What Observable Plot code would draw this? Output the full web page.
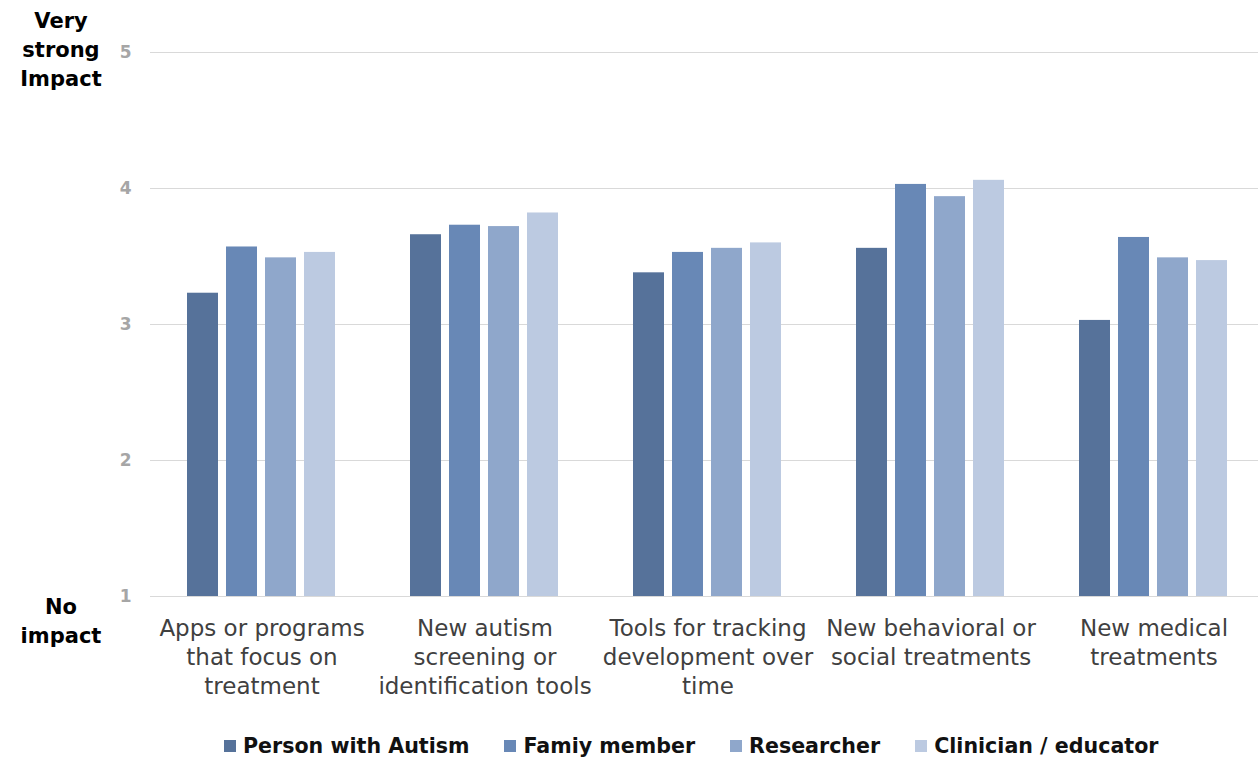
<!DOCTYPE html>
<html>
<head>
<meta charset="utf-8">
<script src="https://cdn.jsdelivr.net/npm/d3@7"></script>
<script src="https://cdn.jsdelivr.net/npm/@observablehq/plot@0.6"></script>
<style>
  html, body { margin: 0; padding: 0; background: #ffffff; overflow: hidden; width: 1258px; height: 759px; }
  #wrap { position: relative; width: 1258px; height: 759px; }
  .ytitle { position: absolute; left: 0; width: 122px; text-align: center; font-family: "DejaVu Sans", sans-serif; font-weight: bold; font-size: 21px; line-height: 29px; color: #000; }
  #legend { position: absolute; left: 224px; top: 733px; display: flex; gap: 35px; font-family: "DejaVu Sans", sans-serif; font-weight: bold; font-size: 20.6px; color: #111; }
  .item { display: flex; align-items: center; gap: 7px; line-height: 26px; }
  .sw { width: 12px; height: 12px; display: inline-block; }
</style>
</head>
<body>
<div id="wrap">
  <div id="chart"></div>
  <div class="ytitle" style="top:7px">Very<br>strong<br>Impact</div>
  <div class="ytitle" style="top:593px">No<br>impact</div>
  <div id="legend"></div>
</div>
<script>
const categories = [
  "Apps or programs\nthat focus on\ntreatment",
  "New autism\nscreening or\nidentification tools",
  "Tools for tracking\ndevelopment over\ntime",
  "New behavioral or\nsocial treatments",
  "New medical\ntreatments"
];
const series = ["Person with Autism", "Famiy member", "Researcher", "Clinician / educator"];
const colors = ["#56729a", "#6888b6", "#8fa7cb", "#bccae1"];
const personWithAutism = [3.23, 3.66, 3.38, 3.56, 3.03];
const familyMember     = [3.57, 3.73, 3.53, 4.03, 3.64];
const researcher       = [3.49, 3.72, 3.56, 3.94, 3.49];
const clinician        = [3.53, 3.82, 3.60, 4.06, 3.47];
const yTicks = [1, 2, 3, 4, 5];

const seriesValues = [personWithAutism, familyMember, researcher, clinician];
const data = [];
categories.forEach((c, i) => {
  series.forEach((s, j) => data.push({category: c, series: s, value: seriesValues[j][i]}));
});

const chart = Plot.plot({
  width: 1258,
  height: 720,
  marginLeft: 150,
  marginRight: 0,
  marginTop: 52,
  marginBottom: 124,
  style: {background: "transparent", overflow: "visible"},
  fx: {domain: categories, range: [150, 1265], padding: 0, axis: null},
  x: {domain: series, paddingInner: 0.2, paddingOuter: 0.89, axis: null},
  y: {domain: [1, 5], axis: null},
  color: {domain: series, range: colors},
  marks: [
    Plot.gridY(yTicks, {stroke: "#d9d9d9", strokeOpacity: 1, strokeWidth: 1}),
    Plot.axisY(yTicks, {tickSize: 0, tickPadding: 19, tickFormat: d3.format("d"), fontSize: 17, fontWeight: "bold", fill: "#a6a6a6", fontFamily: "DejaVu Sans, sans-serif", label: null}),
    Plot.barY(data, {fx: "category", x: "series", y1: 1, y2: "value", fill: "series"}),
    Plot.text(categories, {fx: d => d, text: d => d, frameAnchor: "bottom", lineAnchor: "top", dy: 19, lineHeight: 1.26, fontSize: 23, fill: "#404040", fontFamily: "DejaVu Sans, sans-serif"})
  ]
});
document.getElementById("chart").appendChild(chart);

const legend = document.getElementById("legend");
series.forEach((s, i) => {
  const it = document.createElement("div");
  it.className = "item";
  it.innerHTML = `<span class="sw" style="background:${colors[i]}"></span><span>${s}</span>`;
  legend.appendChild(it);
});
</script>
</body>
</html>
